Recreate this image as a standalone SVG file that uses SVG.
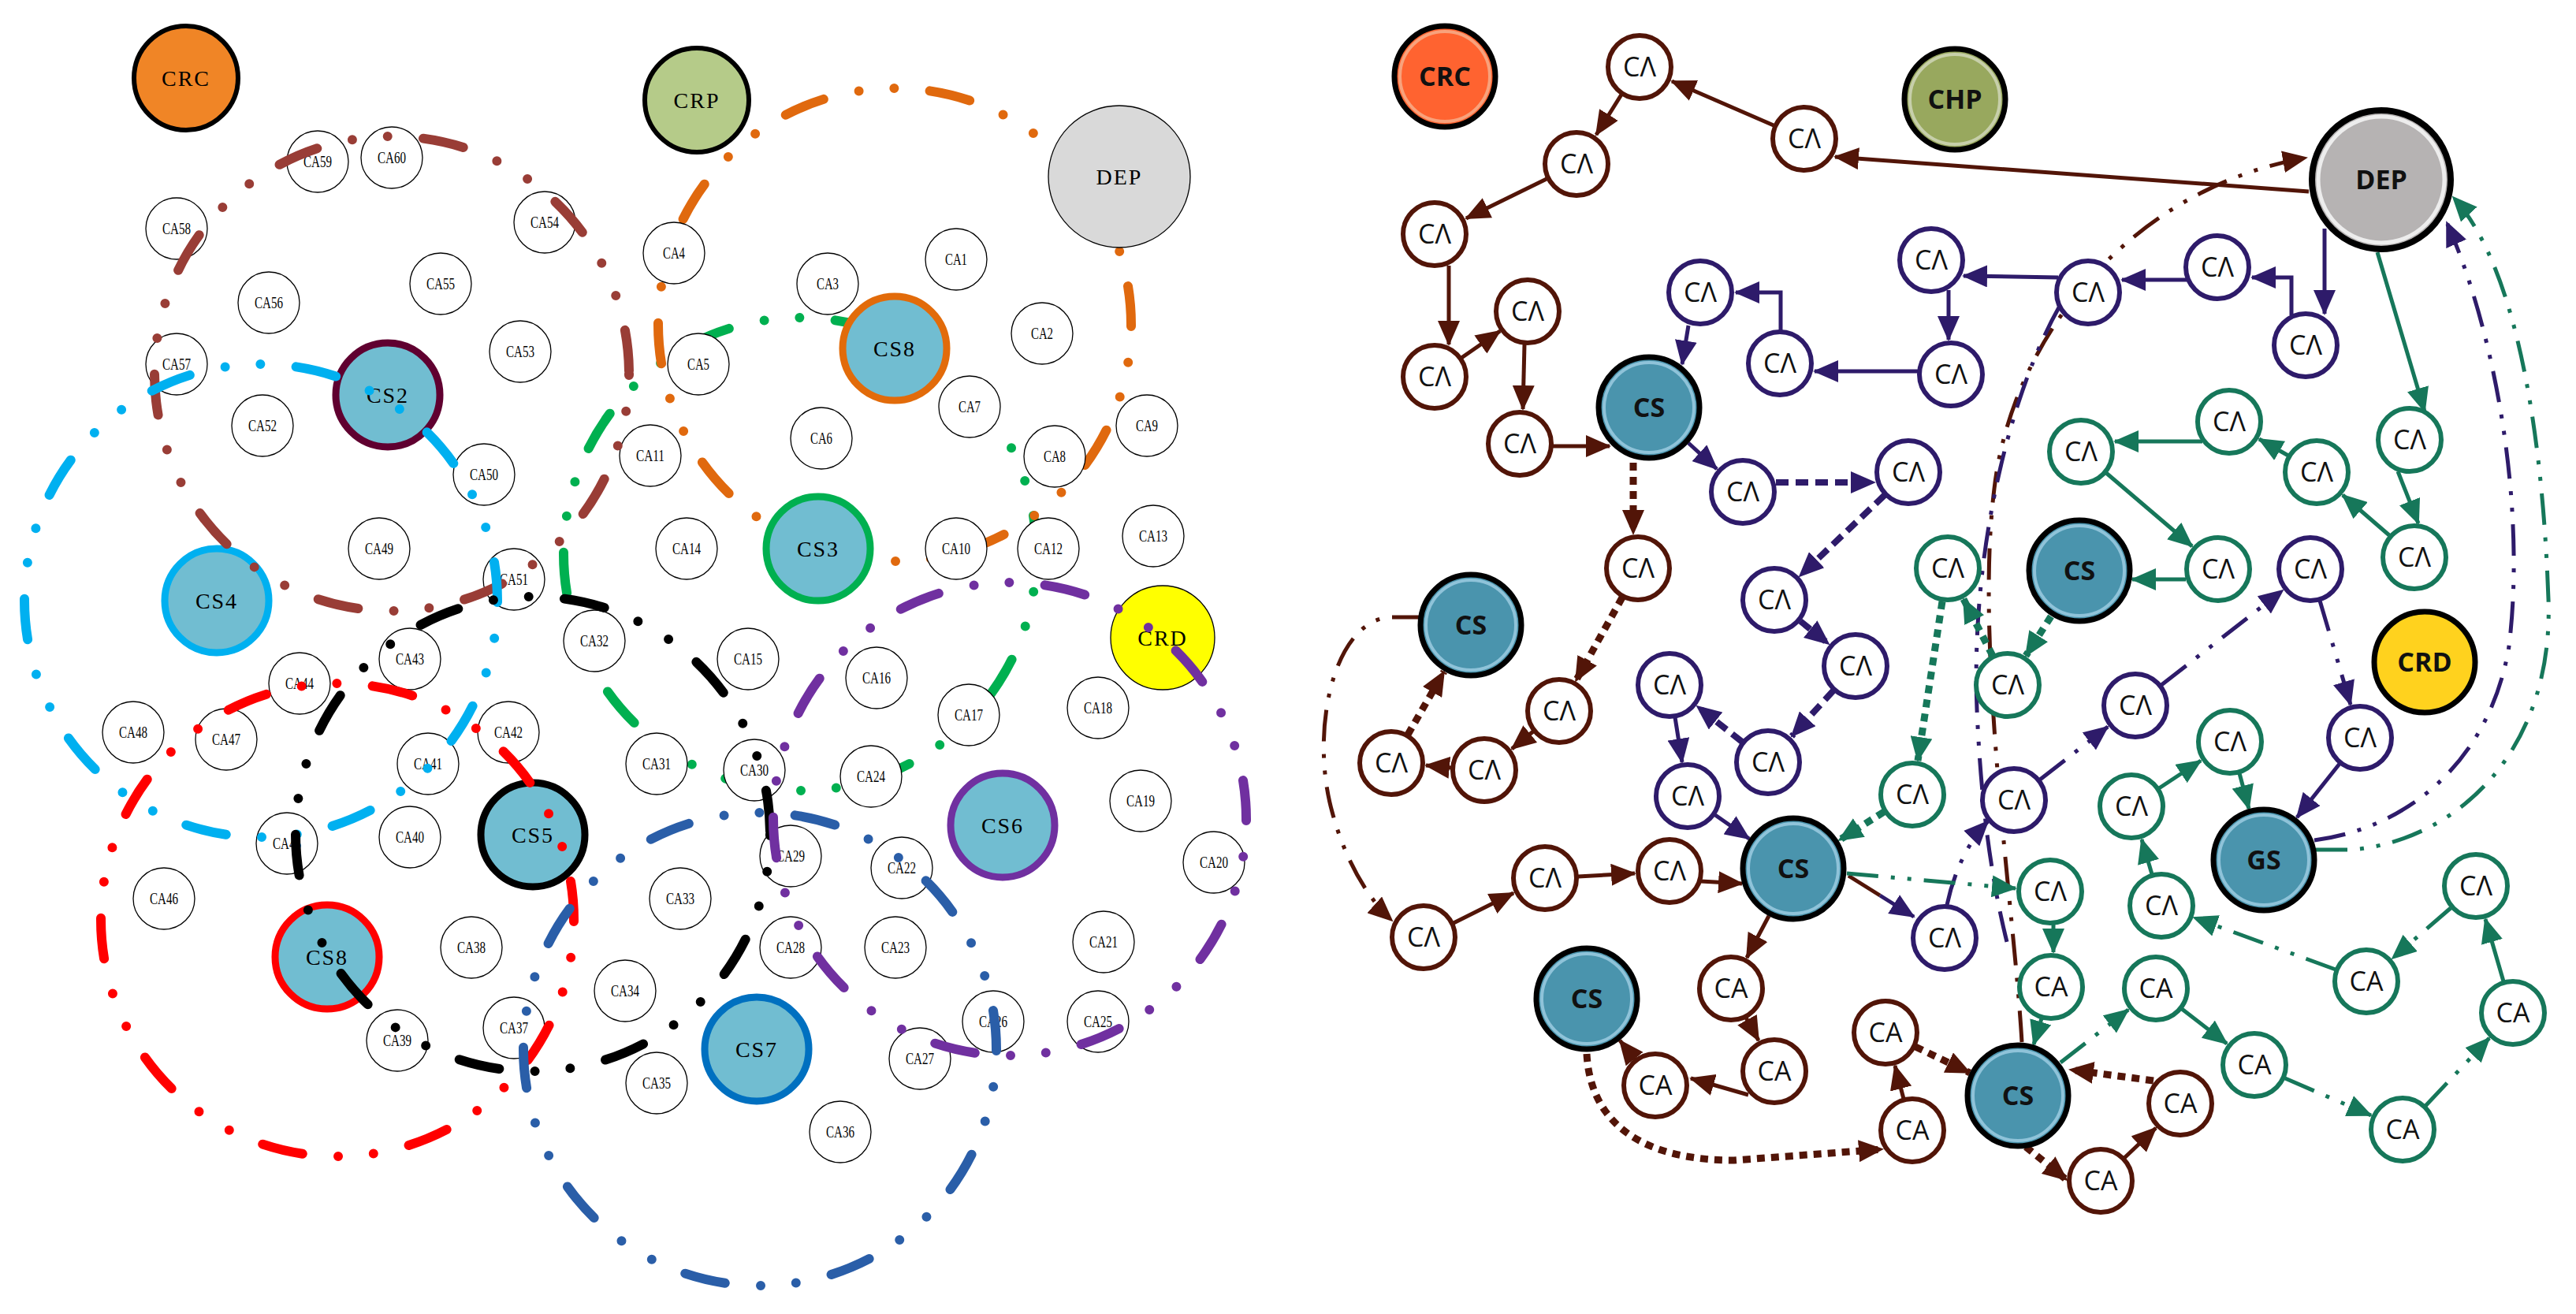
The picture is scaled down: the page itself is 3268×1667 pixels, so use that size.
<svg xmlns="http://www.w3.org/2000/svg" width="3268" height="1667" viewBox="0 0 3268 1667">
<defs>
<style>
.lc{fill:#fff;stroke:#000;stroke-width:1.3}
.lt{font-family:"Liberation Serif",serif;font-size:20px;text-anchor:middle;fill:#000}
.lb{font-family:"Liberation Serif",serif;font-size:28px;text-anchor:middle;fill:#000;letter-spacing:2px}
.cs{fill:#71BDD1;stroke-width:9}
.ring{fill:none;stroke-width:12;stroke-linecap:round;stroke-dasharray:52 46 0 45 0 45.5;stroke-dashoffset:50}
.rca{fill:#fff;stroke-width:6}
.nb{stroke:#521508}.np{stroke:#2E1B6A}.ng{stroke:#16775A}
.rt{font-family:"Open Sans","Liberation Sans",sans-serif;font-size:34px;text-anchor:middle;fill:#111}
.rb{font-weight:bold}
.big{stroke:#000;stroke-width:7}
.e{fill:none;stroke-width:5}
.eb{stroke:#521508}.ep{stroke:#2E1B6A}.eg{stroke:#16775A}
.dot{stroke-dasharray:10 8;stroke-width:9}
.dsh{stroke-dasharray:16 9;stroke-width:8}
.dd{stroke-dasharray:40 16 5 16 5 16;stroke-width:5}
</style>
<marker id="ab" markerUnits="userSpaceOnUse" markerWidth="32" markerHeight="28" refX="30" refY="14" orient="auto"><path d="M0,0 L32,14 L0,28 Z" fill="#521508"/></marker>
<marker id="ap" markerUnits="userSpaceOnUse" markerWidth="32" markerHeight="28" refX="30" refY="14" orient="auto"><path d="M0,0 L32,14 L0,28 Z" fill="#2E1B6A"/></marker>
<marker id="ag" markerUnits="userSpaceOnUse" markerWidth="32" markerHeight="28" refX="30" refY="14" orient="auto"><path d="M0,0 L32,14 L0,28 Z" fill="#16775A"/></marker>
</defs>
<rect width="3268" height="1667" fill="#fff"/>

<!-- LEFT PANEL -->
<g id="clusters-left-under">
<circle class="ring" cx="1015" cy="703" r="300" stroke="#00B050"/>
<circle class="ring" cx="1135" cy="412" r="300" stroke="#E0690E"/>
</g>
<g id="left-nodes">
<g id="L-CRC"><circle cx="236" cy="99" r="66" fill="#F08526" stroke="#000" stroke-width="6"/><text class="lb" x="236" y="109">CRC</text></g>
<g id="L-CRP"><circle cx="884" cy="127" r="66" fill="#B5CB89" stroke="#000" stroke-width="6"/><text class="lb" x="884" y="137">CRP</text></g>
<g id="L-DEP"><circle cx="1420" cy="224" r="90" fill="#D9D9D9" stroke="#000" stroke-width="1.3"/><text class="lb" x="1420" y="234">DEP</text></g>
<g id="L-CRD"><circle cx="1475" cy="809" r="66" fill="#FFFF00" stroke="#000" stroke-width="1.3"/><text class="lb" x="1475" y="819">CRD</text></g>
<g id="L-CS2"><circle class="cs" cx="492" cy="501" r="66" stroke="#600030"/><text class="lb" x="492" y="511">CS2</text></g>
<g id="L-CS8a"><circle class="cs" cx="1135" cy="442" r="66" stroke="#E26B0A"/><text class="lb" x="1135" y="452">CS8</text></g>
<g id="L-CS4"><circle class="cs" cx="275" cy="762" r="66" stroke="#00B0F0"/><text class="lb" x="275" y="772">CS4</text></g>
<g id="L-CS3"><circle class="cs" cx="1038" cy="696" r="66" stroke="#00B050"/><text class="lb" x="1038" y="706">CS3</text></g>
<g id="L-CS5"><circle class="cs" cx="676" cy="1059" r="66" stroke="#000"/><text class="lb" x="676" y="1069">CS5</text></g>
<g id="L-CS6"><circle class="cs" cx="1272" cy="1047" r="66" stroke="#7030A0"/><text class="lb" x="1272" y="1057">CS6</text></g>
<g id="L-CS7"><circle class="cs" cx="960" cy="1331" r="66" stroke="#0070C0"/><text class="lb" x="960" y="1341">CS7</text></g>
<g id="L-CS8b"><circle class="cs" cx="415" cy="1214" r="66" stroke="#FF0000"/><text class="lb" x="415" y="1224">CS8</text></g>
<g id="L-CA1"><circle class="lc" cx="1213" cy="329" r="39"/><text class="lt" x="1213" y="336" textLength="28" lengthAdjust="spacingAndGlyphs">CA1</text></g>
<g id="L-CA2"><circle class="lc" cx="1322" cy="423" r="39"/><text class="lt" x="1322" y="430" textLength="28" lengthAdjust="spacingAndGlyphs">CA2</text></g>
<g id="L-CA3"><circle class="lc" cx="1050" cy="360" r="39"/><text class="lt" x="1050" y="367" textLength="28" lengthAdjust="spacingAndGlyphs">CA3</text></g>
<g id="L-CA4"><circle class="lc" cx="855" cy="321" r="39"/><text class="lt" x="855" y="328" textLength="28" lengthAdjust="spacingAndGlyphs">CA4</text></g>
<g id="L-CA5"><circle class="lc" cx="886" cy="462" r="39"/><text class="lt" x="886" y="469" textLength="28" lengthAdjust="spacingAndGlyphs">CA5</text></g>
<g id="L-CA6"><circle class="lc" cx="1042" cy="556" r="39"/><text class="lt" x="1042" y="563" textLength="28" lengthAdjust="spacingAndGlyphs">CA6</text></g>
<g id="L-CA7"><circle class="lc" cx="1230" cy="516" r="39"/><text class="lt" x="1230" y="523" textLength="28" lengthAdjust="spacingAndGlyphs">CA7</text></g>
<g id="L-CA8"><circle class="lc" cx="1338" cy="579" r="39"/><text class="lt" x="1338" y="586" textLength="28" lengthAdjust="spacingAndGlyphs">CA8</text></g>
<g id="L-CA9"><circle class="lc" cx="1455" cy="540" r="39"/><text class="lt" x="1455" y="547" textLength="28" lengthAdjust="spacingAndGlyphs">CA9</text></g>
<g id="L-CA10"><circle class="lc" cx="1213" cy="696" r="39"/><text class="lt" x="1213" y="703" textLength="36" lengthAdjust="spacingAndGlyphs">CA10</text></g>
<g id="L-CA11"><circle class="lc" cx="825" cy="578" r="39"/><text class="lt" x="825" y="585" textLength="36" lengthAdjust="spacingAndGlyphs">CA11</text></g>
<g id="L-CA12"><circle class="lc" cx="1330" cy="696" r="39"/><text class="lt" x="1330" y="703" textLength="36" lengthAdjust="spacingAndGlyphs">CA12</text></g>
<g id="L-CA13"><circle class="lc" cx="1463" cy="680" r="39"/><text class="lt" x="1463" y="687" textLength="36" lengthAdjust="spacingAndGlyphs">CA13</text></g>
<g id="L-CA14"><circle class="lc" cx="871" cy="696" r="39"/><text class="lt" x="871" y="703" textLength="36" lengthAdjust="spacingAndGlyphs">CA14</text></g>
<g id="L-CA15"><circle class="lc" cx="949" cy="836" r="39"/><text class="lt" x="949" y="843" textLength="36" lengthAdjust="spacingAndGlyphs">CA15</text></g>
<g id="L-CA16"><circle class="lc" cx="1112" cy="860" r="39"/><text class="lt" x="1112" y="867" textLength="36" lengthAdjust="spacingAndGlyphs">CA16</text></g>
<g id="L-CA17"><circle class="lc" cx="1229" cy="907" r="39"/><text class="lt" x="1229" y="914" textLength="36" lengthAdjust="spacingAndGlyphs">CA17</text></g>
<g id="L-CA18"><circle class="lc" cx="1393" cy="898" r="39"/><text class="lt" x="1393" y="905" textLength="36" lengthAdjust="spacingAndGlyphs">CA18</text></g>
<g id="L-CA19"><circle class="lc" cx="1447" cy="1016" r="39"/><text class="lt" x="1447" y="1023" textLength="36" lengthAdjust="spacingAndGlyphs">CA19</text></g>
<g id="L-CA20"><circle class="lc" cx="1540" cy="1094" r="39"/><text class="lt" x="1540" y="1101" textLength="36" lengthAdjust="spacingAndGlyphs">CA20</text></g>
<g id="L-CA21"><circle class="lc" cx="1400" cy="1195" r="39"/><text class="lt" x="1400" y="1202" textLength="36" lengthAdjust="spacingAndGlyphs">CA21</text></g>
<g id="L-CA22"><circle class="lc" cx="1144" cy="1101" r="39"/><text class="lt" x="1144" y="1108" textLength="36" lengthAdjust="spacingAndGlyphs">CA22</text></g>
<g id="L-CA23"><circle class="lc" cx="1136" cy="1202" r="39"/><text class="lt" x="1136" y="1209" textLength="36" lengthAdjust="spacingAndGlyphs">CA23</text></g>
<g id="L-CA24"><circle class="lc" cx="1105" cy="985" r="39"/><text class="lt" x="1105" y="992" textLength="36" lengthAdjust="spacingAndGlyphs">CA24</text></g>
<g id="L-CA25"><circle class="lc" cx="1393" cy="1296" r="39"/><text class="lt" x="1393" y="1303" textLength="36" lengthAdjust="spacingAndGlyphs">CA25</text></g>
<g id="L-CA26"><circle class="lc" cx="1260" cy="1296" r="39"/><text class="lt" x="1260" y="1303" textLength="36" lengthAdjust="spacingAndGlyphs">CA26</text></g>
<g id="L-CA27"><circle class="lc" cx="1167" cy="1343" r="39"/><text class="lt" x="1167" y="1350" textLength="36" lengthAdjust="spacingAndGlyphs">CA27</text></g>
<g id="L-CA28"><circle class="lc" cx="1003" cy="1202" r="39"/><text class="lt" x="1003" y="1209" textLength="36" lengthAdjust="spacingAndGlyphs">CA28</text></g>
<g id="L-CA29"><circle class="lc" cx="1003" cy="1086" r="39"/><text class="lt" x="1003" y="1093" textLength="36" lengthAdjust="spacingAndGlyphs">CA29</text></g>
<g id="L-CA30"><circle class="lc" cx="957" cy="977" r="39"/><text class="lt" x="957" y="984" textLength="36" lengthAdjust="spacingAndGlyphs">CA30</text></g>
<g id="L-CA31"><circle class="lc" cx="833" cy="969" r="39"/><text class="lt" x="833" y="976" textLength="36" lengthAdjust="spacingAndGlyphs">CA31</text></g>
<g id="L-CA32"><circle class="lc" cx="754" cy="813" r="39"/><text class="lt" x="754" y="820" textLength="36" lengthAdjust="spacingAndGlyphs">CA32</text></g>
<g id="L-CA33"><circle class="lc" cx="863" cy="1140" r="39"/><text class="lt" x="863" y="1147" textLength="36" lengthAdjust="spacingAndGlyphs">CA33</text></g>
<g id="L-CA34"><circle class="lc" cx="793" cy="1257" r="39"/><text class="lt" x="793" y="1264" textLength="36" lengthAdjust="spacingAndGlyphs">CA34</text></g>
<g id="L-CA35"><circle class="lc" cx="833" cy="1374" r="39"/><text class="lt" x="833" y="1381" textLength="36" lengthAdjust="spacingAndGlyphs">CA35</text></g>
<g id="L-CA36"><circle class="lc" cx="1066" cy="1436" r="39"/><text class="lt" x="1066" y="1443" textLength="36" lengthAdjust="spacingAndGlyphs">CA36</text></g>
<g id="L-CA37"><circle class="lc" cx="652" cy="1304" r="39"/><text class="lt" x="652" y="1311" textLength="36" lengthAdjust="spacingAndGlyphs">CA37</text></g>
<g id="L-CA38"><circle class="lc" cx="598" cy="1202" r="39"/><text class="lt" x="598" y="1209" textLength="36" lengthAdjust="spacingAndGlyphs">CA38</text></g>
<g id="L-CA39"><circle class="lc" cx="504" cy="1320" r="39"/><text class="lt" x="504" y="1327" textLength="36" lengthAdjust="spacingAndGlyphs">CA39</text></g>
<g id="L-CA40"><circle class="lc" cx="520" cy="1062" r="39"/><text class="lt" x="520" y="1069" textLength="36" lengthAdjust="spacingAndGlyphs">CA40</text></g>
<g id="L-CA41"><circle class="lc" cx="543" cy="969" r="39"/><text class="lt" x="543" y="976" textLength="36" lengthAdjust="spacingAndGlyphs">CA41</text></g>
<g id="L-CA42"><circle class="lc" cx="645" cy="929" r="39"/><text class="lt" x="645" y="936" textLength="36" lengthAdjust="spacingAndGlyphs">CA42</text></g>
<g id="L-CA43"><circle class="lc" cx="520" cy="836" r="39"/><text class="lt" x="520" y="843" textLength="36" lengthAdjust="spacingAndGlyphs">CA43</text></g>
<g id="L-CA44"><circle class="lc" cx="380" cy="867" r="39"/><text class="lt" x="380" y="874" textLength="36" lengthAdjust="spacingAndGlyphs">CA44</text></g>
<g id="L-CA45"><circle class="lc" cx="364" cy="1070" r="39"/><text class="lt" x="364" y="1077" textLength="36" lengthAdjust="spacingAndGlyphs">CA45</text></g>
<g id="L-CA46"><circle class="lc" cx="208" cy="1140" r="39"/><text class="lt" x="208" y="1147" textLength="36" lengthAdjust="spacingAndGlyphs">CA46</text></g>
<g id="L-CA47"><circle class="lc" cx="287" cy="938" r="39"/><text class="lt" x="287" y="945" textLength="36" lengthAdjust="spacingAndGlyphs">CA47</text></g>
<g id="L-CA48"><circle class="lc" cx="169" cy="929" r="39"/><text class="lt" x="169" y="936" textLength="36" lengthAdjust="spacingAndGlyphs">CA48</text></g>
<g id="L-CA49"><circle class="lc" cx="481" cy="696" r="39"/><text class="lt" x="481" y="703" textLength="36" lengthAdjust="spacingAndGlyphs">CA49</text></g>
<g id="L-CA50"><circle class="lc" cx="614" cy="602" r="39"/><text class="lt" x="614" y="609" textLength="36" lengthAdjust="spacingAndGlyphs">CA50</text></g>
<g id="L-CA51"><circle class="lc" cx="652" cy="735" r="39"/><text class="lt" x="652" y="742" textLength="36" lengthAdjust="spacingAndGlyphs">CA51</text></g>
<g id="L-CA52"><circle class="lc" cx="333" cy="540" r="39"/><text class="lt" x="333" y="547" textLength="36" lengthAdjust="spacingAndGlyphs">CA52</text></g>
<g id="L-CA53"><circle class="lc" cx="660" cy="446" r="39"/><text class="lt" x="660" y="453" textLength="36" lengthAdjust="spacingAndGlyphs">CA53</text></g>
<g id="L-CA54"><circle class="lc" cx="691" cy="282" r="39"/><text class="lt" x="691" y="289" textLength="36" lengthAdjust="spacingAndGlyphs">CA54</text></g>
<g id="L-CA55"><circle class="lc" cx="559" cy="360" r="39"/><text class="lt" x="559" y="367" textLength="36" lengthAdjust="spacingAndGlyphs">CA55</text></g>
<g id="L-CA56"><circle class="lc" cx="341" cy="384" r="39"/><text class="lt" x="341" y="391" textLength="36" lengthAdjust="spacingAndGlyphs">CA56</text></g>
<g id="L-CA57"><circle class="lc" cx="224" cy="462" r="39"/><text class="lt" x="224" y="469" textLength="36" lengthAdjust="spacingAndGlyphs">CA57</text></g>
<g id="L-CA58"><circle class="lc" cx="224" cy="290" r="39"/><text class="lt" x="224" y="297" textLength="36" lengthAdjust="spacingAndGlyphs">CA58</text></g>
<g id="L-CA59"><circle class="lc" cx="403" cy="205" r="39"/><text class="lt" x="403" y="212" textLength="36" lengthAdjust="spacingAndGlyphs">CA59</text></g>
<g id="L-CA60"><circle class="lc" cx="497" cy="200" r="39"/><text class="lt" x="497" y="207" textLength="36" lengthAdjust="spacingAndGlyphs">CA60</text></g>
</g>
<g id="clusters-left">
<circle class="ring" cx="497" cy="474" r="301" stroke="#993D36"/>
<circle class="ring" cx="331" cy="762" r="300" stroke="#00B0F0"/>
<circle class="ring" cx="676" cy="1058" r="301" stroke="#000"/>
<circle class="ring" cx="428" cy="1167" r="300" stroke="#FF0000"/>
<circle class="ring" cx="964" cy="1331" r="300" stroke="#2A5EA8"/>
<circle class="ring" cx="1281" cy="1039" r="300" stroke="#7030A0"/>
</g>

<!-- RIGHT PANEL -->
<g id="connectors-right">
<path class="e eb" d="M2929,243 L2328,199" marker-end="url(#ab)"/>
<path class="e eb" d="M2250,159 L2121,103" marker-end="url(#ab)"/>
<path class="e eb" d="M2057,120 L2025,171" marker-end="url(#ab)"/>
<path class="e eb" d="M1962,227 L1860,277" marker-end="url(#ab)"/>
<path class="e eb" d="M1838,337 L1838,437" marker-end="url(#ab)"/>
<path class="e eb" d="M1854,454 L1903,420" marker-end="url(#ab)"/>
<path class="e eb" d="M1934,437 L1932,519" marker-end="url(#ab)"/>
<path class="e eb" d="M1970,566 L2042,566" marker-end="url(#ab)"/>
<path class="e eb dot" d="M2072,587 L2072,677" marker-end="url(#ab)"/>
<path class="e eb dot" d="M2058,758 L1999,864" marker-end="url(#ab)"/>
<path class="e eb" d="M1945,928 L1918,950" marker-end="url(#ab)"/>
<path class="e eb" d="M1841,974 L1809,971" marker-end="url(#ab)"/>
<path class="e eb dot" d="M1786,932 L1832,852" marker-end="url(#ab)"/>
<path class="e eb dd" d="M1806,783 L1762,783 C1690,790 1662,930 1690,1030 C1706,1090 1735,1140 1766,1168" marker-end="url(#ab)"/>
<path class="e eb" d="M1844,1171 L1920,1133" marker-end="url(#ab)"/>
<path class="e eb" d="M2002,1112 L2074,1108" marker-end="url(#ab)"/>
<path class="e eb" d="M2158,1118 L2210,1121" marker-end="url(#ab)"/>
<path class="e eb" d="M2244,1162 L2216,1215" marker-end="url(#ab)"/>
<path class="e eb" d="M2215,1291 L2231,1320" marker-end="url(#ab)"/>
<path class="e eb" d="M2218,1389 L2145,1368" marker-end="url(#ab)"/>
<path class="e eb" d="M2074,1344 L2055,1320" marker-end="url(#ab)"/>
<path class="e eb dot" d="M2013,1337 C2018,1430 2090,1472 2200,1472 L2388,1458" marker-end="url(#ab)"/>
<path class="e eb" d="M2415,1394 L2404,1352" marker-end="url(#ab)"/>
<path class="e eb dot" d="M2430,1328 L2499,1361" marker-end="url(#ab)"/>
<path class="e eb dot" d="M2732,1371 L2626,1357" marker-end="url(#ab)"/>
<path class="e eb dot" d="M2570,1455 L2622,1497" marker-end="url(#ab)"/>
<path class="e eb" d="M2695,1469 L2735,1431" marker-end="url(#ab)"/>
<path class="e eb dd" d="M2565,1322 C2555,1150 2505,820 2530,620 C2552,430 2700,240 2926,200" marker-end="url(#ab)"/>
<path class="e eb" d="M2345,1111 L2385,1136"/>
<path class="e ep" d="M2949,290 L2949,398" marker-end="url(#ap)"/>
<path class="e ep" d="M2907,400 L2907,352 L2857,352" marker-end="url(#ap)"/>
<path class="e ep" d="M2774,355 L2692,355" marker-end="url(#ap)"/>
<path class="e ep" d="M2611,352 L2491,350" marker-end="url(#ap)"/>
<path class="e ep" d="M2472,368 L2472,431" marker-end="url(#ap)"/>
<path class="e ep" d="M2433,471 L2302,471" marker-end="url(#ap)"/>
<path class="e ep" d="M2259,419 L2259,371 L2202,371" marker-end="url(#ap)"/>
<path class="e ep" d="M2142,413 L2134,462" marker-end="url(#ap)"/>
<path class="e ep" d="M2142,562 L2178,595" marker-end="url(#ap)"/>
<path class="e ep dsh" d="M2253,612 L2378,612" marker-end="url(#ap)"/>
<path class="e ep dsh" d="M2391,628 L2283,731" marker-end="url(#ap)"/>
<path class="e ep dsh" d="M2284,788 L2320,817" marker-end="url(#ap)"/>
<path class="e ep dsh" d="M2326,876 L2273,934" marker-end="url(#ap)"/>
<path class="e ep dsh" d="M2210,941 L2153,896" marker-end="url(#ap)"/>
<path class="e ep" d="M2125,910 L2134,967" marker-end="url(#ap)"/>
<path class="e ep" d="M2176,1034 L2219,1064" marker-end="url(#ap)"/>
<path class="e ep" d="M2385,1136 L2428,1163" marker-end="url(#ap)"/>
<path class="e ep dd" d="M2470,1148 C2478,1110 2495,1070 2522,1042" marker-end="url(#ap)"/>
<path class="e ep dd" d="M2588,989 L2674,922" marker-end="url(#ap)"/>
<path class="e ep dd" d="M2742,869 L2896,749" marker-end="url(#ap)"/>
<path class="e ep dd" d="M2943,762 L2982,894" marker-end="url(#ap)"/>
<path class="e ep" d="M2968,969 L2914,1037" marker-end="url(#ap)"/>
<path class="e ep dd" d="M2612,390 C2550,500 2500,700 2508,900 C2514,1040 2530,1130 2546,1195"/>
<path class="e ep dd" d="M2936,1066 C3060,1050 3160,960 3183,820 C3205,640 3165,420 3104,282" marker-end="url(#ap)"/>
<path class="e eg" d="M3016,320 L3076,522" marker-end="url(#ag)"/>
<path class="e eg" d="M3042,598 L3068,664" marker-end="url(#ag)"/>
<path class="e eg" d="M3031,679 L2972,628" marker-end="url(#ag)"/>
<path class="e eg" d="M2903,578 L2866,557" marker-end="url(#ag)"/>
<path class="e eg" d="M2794,560 L2683,560" marker-end="url(#ag)"/>
<path class="e eg" d="M2672,600 L2781,693" marker-end="url(#ag)"/>
<path class="e eg" d="M2773,735 L2705,735" marker-end="url(#ag)"/>
<path class="e eg dot" d="M2602,782 L2570,832" marker-end="url(#ag)"/>
<path class="e eg dot" d="M2528,832 L2491,760" marker-end="url(#ag)"/>
<path class="e eg dot" d="M2464,763 L2433,965" marker-end="url(#ag)"/>
<path class="e eg dot" d="M2390,1030 L2333,1066" marker-end="url(#ag)"/>
<path class="e eg dd" d="M2343,1108 L2557,1127" marker-end="url(#ag)"/>
<path class="e eg" d="M2605,1173 L2605,1208" marker-end="url(#ag)"/>
<path class="e eg" d="M2590,1292 L2580,1325" marker-end="url(#ag)"/>
<path class="e eg dd" d="M2614,1348 L2700,1281" marker-end="url(#ag)"/>
<path class="e eg" d="M2768,1280 L2825,1324" marker-end="url(#ag)"/>
<path class="e eg dd" d="M2899,1368 L3008,1415" marker-end="url(#ag)"/>
<path class="e eg dd" d="M3077,1403 L3158,1317" marker-end="url(#ag)"/>
<path class="e eg" d="M3176,1245 L3153,1166" marker-end="url(#ag)"/>
<path class="e eg dd" d="M3109,1152 L3035,1216" marker-end="url(#ag)"/>
<path class="e eg dd" d="M2963,1230 L2783,1164" marker-end="url(#ag)"/>
<path class="e eg" d="M2730,1109 L2717,1065" marker-end="url(#ag)"/>
<path class="e eg" d="M2739,1000 L2792,965" marker-end="url(#ag)"/>
<path class="e eg" d="M2841,981 L2853,1026" marker-end="url(#ag)"/>
<path class="e eg dd" d="M2938,1078 L2985,1078 C3120,1065 3240,950 3233,760 C3226,560 3195,340 3112,250" marker-end="url(#ag)"/>
</g>

<g id="right-nodes">
<g id="R-CRC"><circle cx="1833" cy="97" r="64" fill="#FF6330" class="big"/><circle cx="1833" cy="97" r="57" fill="none" stroke="#F8A27C" stroke-width="4"/><text class="rt rb" x="1833" y="109">CRC</text></g>
<g id="R-CHP"><circle cx="2480" cy="126" r="64" fill="#98A85E" class="big"/><circle cx="2480" cy="126" r="57" fill="none" stroke="#C7CFAA" stroke-width="4"/><text class="rt rb" x="2480" y="138">CHP</text></g>
<g id="R-DEP"><circle cx="3021" cy="228" r="88" fill="#B6B3B3" stroke="#000" stroke-width="8"/><circle cx="3021" cy="228" r="80" fill="none" stroke="#EDEDED" stroke-width="5"/><text class="rt rb" x="3021" y="240">DEP</text></g>
<g id="R-CRD"><circle cx="3076" cy="840" r="64" fill="#FFD21E" class="big"/><text class="rt rb" x="3076" y="852">CRD</text></g>
<g id="R-CS1"><circle cx="2092" cy="517" r="64" fill="#4A94AD" class="big"/><circle cx="2092" cy="517" r="57" fill="none" stroke="#8FC3D9" stroke-width="4"/><text class="rt rb" x="2092" y="529">CS</text></g>
<g id="R-CS2"><circle cx="2638" cy="724" r="64" fill="#4A94AD" class="big"/><circle cx="2638" cy="724" r="57" fill="none" stroke="#8FC3D9" stroke-width="4"/><text class="rt rb" x="2638" y="736">CS</text></g>
<g id="R-CS3"><circle cx="1866" cy="793" r="64" fill="#4A94AD" class="big"/><circle cx="1866" cy="793" r="57" fill="none" stroke="#8FC3D9" stroke-width="4"/><text class="rt rb" x="1866" y="805">CS</text></g>
<g id="R-CS4"><circle cx="2275" cy="1102" r="64" fill="#4A94AD" class="big"/><circle cx="2275" cy="1102" r="57" fill="none" stroke="#8FC3D9" stroke-width="4"/><text class="rt rb" x="2275" y="1114">CS</text></g>
<g id="R-CS5"><circle cx="2013" cy="1267" r="64" fill="#4A94AD" class="big"/><circle cx="2013" cy="1267" r="57" fill="none" stroke="#8FC3D9" stroke-width="4"/><text class="rt rb" x="2013" y="1279">CS</text></g>
<g id="R-CS6"><circle cx="2560" cy="1390" r="64" fill="#4A94AD" class="big"/><circle cx="2560" cy="1390" r="57" fill="none" stroke="#8FC3D9" stroke-width="4"/><text class="rt rb" x="2560" y="1402">CS</text></g>
<g id="R-GS"><circle cx="2872" cy="1091" r="64" fill="#4A94AD" class="big"/><circle cx="2872" cy="1091" r="57" fill="none" stroke="#8FC3D9" stroke-width="4"/><text class="rt rb" x="2872" y="1103">GS</text></g>

<g id="R-b1"><circle class="rca nb" cx="2080" cy="85" r="40"/><text class="rt" x="2080" y="97">CΛ</text></g>
<g id="R-b2"><circle class="rca nb" cx="2289" cy="176" r="40"/><text class="rt" x="2289" y="188">CΛ</text></g>
<g id="R-b3"><circle class="rca nb" cx="2000" cy="208" r="40"/><text class="rt" x="2000" y="220">CΛ</text></g>
<g id="R-b4"><circle class="rca nb" cx="1820" cy="297" r="40"/><text class="rt" x="1820" y="309">CΛ</text></g>
<g id="R-b5"><circle class="rca nb" cx="1820" cy="478" r="40"/><text class="rt" x="1820" y="490">CΛ</text></g>
<g id="R-b6"><circle class="rca nb" cx="1938" cy="395" r="40"/><text class="rt" x="1938" y="407">CΛ</text></g>
<g id="R-b7"><circle class="rca nb" cx="1928" cy="563" r="40"/><text class="rt" x="1928" y="575">CΛ</text></g>
<g id="R-b8"><circle class="rca nb" cx="2078" cy="721" r="40"/><text class="rt" x="2078" y="733">CΛ</text></g>
<g id="R-b9"><circle class="rca nb" cx="1978" cy="902" r="40"/><text class="rt" x="1978" y="914">CΛ</text></g>
<g id="R-b10"><circle class="rca nb" cx="1765" cy="968" r="40"/><text class="rt" x="1765" y="980">CΛ</text></g>
<g id="R-b11"><circle class="rca nb" cx="1883" cy="977" r="40"/><text class="rt" x="1883" y="989">CΛ</text></g>
<g id="R-b12"><circle class="rca nb" cx="1960" cy="1114" r="40"/><text class="rt" x="1960" y="1126">CΛ</text></g>
<g id="R-b13"><circle class="rca nb" cx="2118" cy="1105" r="40"/><text class="rt" x="2118" y="1117">CΛ</text></g>
<g id="R-b14"><circle class="rca nb" cx="1806" cy="1189" r="40"/><text class="rt" x="1806" y="1201">CΛ</text></g>
<g id="R-b15"><circle class="rca nb" cx="2196" cy="1254" r="40"/><text class="rt" x="2196" y="1266">CA</text></g>
<g id="R-b16"><circle class="rca nb" cx="2251" cy="1359" r="40"/><text class="rt" x="2251" y="1371">CA</text></g>
<g id="R-b17"><circle class="rca nb" cx="2100" cy="1377" r="40"/><text class="rt" x="2100" y="1389">CA</text></g>
<g id="R-b18"><circle class="rca nb" cx="2392" cy="1310" r="40"/><text class="rt" x="2392" y="1322">CA</text></g>
<g id="R-b19"><circle class="rca nb" cx="2426" cy="1434" r="40"/><text class="rt" x="2426" y="1446">CA</text></g>
<g id="R-b20"><circle class="rca nb" cx="2766" cy="1400" r="40"/><text class="rt" x="2766" y="1412">CA</text></g>
<g id="R-b21"><circle class="rca nb" cx="2665" cy="1498" r="40"/><text class="rt" x="2665" y="1510">CA</text></g>

<g id="R-p1"><circle class="rca np" cx="2157" cy="371" r="40"/><text class="rt" x="2157" y="383">CΛ</text></g>
<g id="R-p2"><circle class="rca np" cx="2258" cy="461" r="40"/><text class="rt" x="2258" y="473">CΛ</text></g>
<g id="R-p3"><circle class="rca np" cx="2450" cy="330" r="40"/><text class="rt" x="2450" y="342">CΛ</text></g>
<g id="R-p4"><circle class="rca np" cx="2475" cy="475" r="40"/><text class="rt" x="2475" y="487">CΛ</text></g>
<g id="R-p5"><circle class="rca np" cx="2649" cy="371" r="40"/><text class="rt" x="2649" y="383">CΛ</text></g>
<g id="R-p6"><circle class="rca np" cx="2813" cy="339" r="40"/><text class="rt" x="2813" y="351">CΛ</text></g>
<g id="R-p7"><circle class="rca np" cx="2925" cy="438" r="40"/><text class="rt" x="2925" y="450">CΛ</text></g>
<g id="R-p8"><circle class="rca np" cx="2211" cy="624" r="40"/><text class="rt" x="2211" y="636">CΛ</text></g>
<g id="R-p9"><circle class="rca np" cx="2421" cy="599" r="40"/><text class="rt" x="2421" y="611">CΛ</text></g>
<g id="R-p10"><circle class="rca np" cx="2251" cy="761" r="40"/><text class="rt" x="2251" y="773">CΛ</text></g>
<g id="R-p11"><circle class="rca np" cx="2354" cy="845" r="40"/><text class="rt" x="2354" y="857">CΛ</text></g>
<g id="R-p12"><circle class="rca np" cx="2118" cy="869" r="40"/><text class="rt" x="2118" y="881">CΛ</text></g>
<g id="R-p13"><circle class="rca np" cx="2243" cy="967" r="40"/><text class="rt" x="2243" y="979">CΛ</text></g>
<g id="R-p14"><circle class="rca np" cx="2141" cy="1010" r="40"/><text class="rt" x="2141" y="1022">CΛ</text></g>
<g id="R-p15"><circle class="rca np" cx="2467" cy="1190" r="40"/><text class="rt" x="2467" y="1202">CΛ</text></g>
<g id="R-p16"><circle class="rca np" cx="2555" cy="1015" r="40"/><text class="rt" x="2555" y="1027">CΛ</text></g>
<g id="R-p17"><circle class="rca np" cx="2709" cy="895" r="40"/><text class="rt" x="2709" y="907">CΛ</text></g>
<g id="R-p18"><circle class="rca np" cx="2931" cy="722" r="40"/><text class="rt" x="2931" y="734">CΛ</text></g>
<g id="R-p19"><circle class="rca np" cx="2994" cy="936" r="40"/><text class="rt" x="2994" y="948">CΛ</text></g>

<g id="R-g1"><circle class="rca ng" cx="2640" cy="573" r="40"/><text class="rt" x="2640" y="585">CΛ</text></g>
<g id="R-g2"><circle class="rca ng" cx="2828" cy="535" r="40"/><text class="rt" x="2828" y="547">CΛ</text></g>
<g id="R-g3"><circle class="rca ng" cx="2939" cy="599" r="40"/><text class="rt" x="2939" y="611">CΛ</text></g>
<g id="R-g4"><circle class="rca ng" cx="3057" cy="558" r="40"/><text class="rt" x="3057" y="570">CΛ</text></g>
<g id="R-g5"><circle class="rca ng" cx="3063" cy="707" r="40"/><text class="rt" x="3063" y="719">CΛ</text></g>
<g id="R-g6"><circle class="rca ng" cx="2814" cy="722" r="40"/><text class="rt" x="2814" y="734">CΛ</text></g>
<g id="R-g7"><circle class="rca ng" cx="2471" cy="721" r="40"/><text class="rt" x="2471" y="733">CΛ</text></g>
<g id="R-g8"><circle class="rca ng" cx="2547" cy="869" r="40"/><text class="rt" x="2547" y="881">CΛ</text></g>
<g id="R-g9"><circle class="rca ng" cx="2829" cy="941" r="40"/><text class="rt" x="2829" y="953">CΛ</text></g>
<g id="R-g10"><circle class="rca ng" cx="2704" cy="1023" r="40"/><text class="rt" x="2704" y="1035">CΛ</text></g>
<g id="R-g11"><circle class="rca ng" cx="2426" cy="1008" r="40"/><text class="rt" x="2426" y="1020">CΛ</text></g>
<g id="R-g12"><circle class="rca ng" cx="2601" cy="1131" r="40"/><text class="rt" x="2601" y="1143">CΛ</text></g>
<g id="R-g13"><circle class="rca ng" cx="2742" cy="1149" r="40"/><text class="rt" x="2742" y="1161">CΛ</text></g>
<g id="R-g14"><circle class="rca ng" cx="2602" cy="1252" r="40"/><text class="rt" x="2602" y="1264">CA</text></g>
<g id="R-g15"><circle class="rca ng" cx="2735" cy="1254" r="40"/><text class="rt" x="2735" y="1266">CA</text></g>
<g id="R-g16"><circle class="rca ng" cx="3141" cy="1124" r="40"/><text class="rt" x="3141" y="1136">CΛ</text></g>
<g id="R-g17"><circle class="rca ng" cx="3002" cy="1245" r="40"/><text class="rt" x="3002" y="1257">CA</text></g>
<g id="R-g18"><circle class="rca ng" cx="3188" cy="1285" r="40"/><text class="rt" x="3188" y="1297">CA</text></g>
<g id="R-g19"><circle class="rca ng" cx="2860" cy="1351" r="40"/><text class="rt" x="2860" y="1363">CA</text></g>
<g id="R-g20"><circle class="rca ng" cx="3048" cy="1433" r="40"/><text class="rt" x="3048" y="1445">CA</text></g>
</g>
</svg>
